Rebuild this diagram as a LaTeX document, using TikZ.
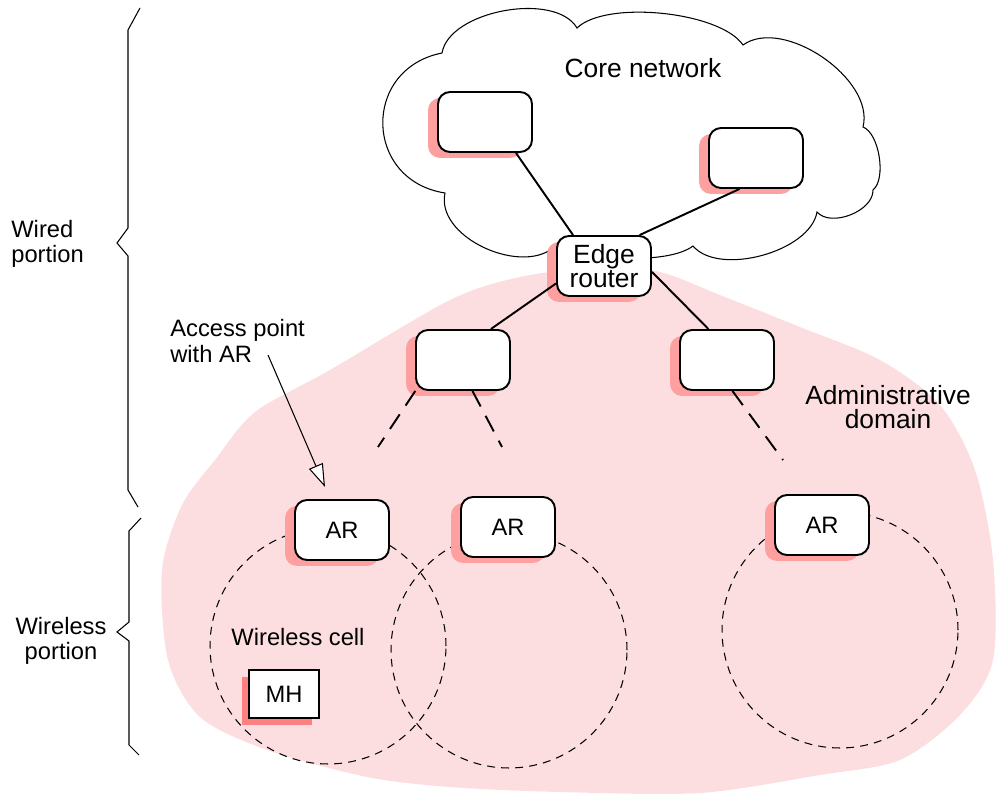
\documentclass[tikz,border=0pt]{standalone}
\usepackage{fontspec}
\setmainfont{Liberation Sans}
\usetikzlibrary{shadows,arrows.meta}

\definecolor{domainpink}{RGB}{253,222,224}
\definecolor{shadowpink}{RGB}{255,160,160}
\definecolor{mhpink}{RGB}{255,128,128}

\begin{document}
\begin{tikzpicture}[x=0.02cm,y=-0.02cm,
  router/.style={draw,line width=1.1pt,fill=white,rounded corners=0.24cm,minimum width=1.88cm,minimum height=1.2cm,inner sep=0pt,font=\fontsize{13.5}{14}\selectfont,drop shadow={shadow xshift=-0.2cm,shadow yshift=-0.12cm,fill=shadowpink,opacity=1}},
  host/.style={draw,line width=1.1pt,fill=white,minimum width=1.4cm,minimum height=0.96cm,inner sep=0pt,font=\fontsize{13.5}{14}\selectfont,drop shadow={shadow xshift=-0.14cm,shadow yshift=-0.14cm,fill=mhpink,opacity=1}},
  cell/.style={draw,circle,line width=0.6pt,dash pattern=on 4.5pt off 3.5pt,minimum size=4.72cm,inner sep=0pt},
  link/.style={line width=1.1pt},
  radio/.style={line width=1.1pt,dash pattern=on 10pt off 6pt},
  brace/.style={line width=0.6pt},
  big/.style={inner sep=0pt,font=\fontsize{15}{13.5}\selectfont},
  small/.style={inner sep=0pt,font=\fontsize{13.5}{14.5}\selectfont}]
  \useasboundingbox (0,0) rectangle (998,794);

  \fill[domainpink] plot[smooth cycle] coordinates {(162,570) (182,505) (215,460) (255,412) (330,370) (450,300) (520,277) (600,267) (660,272) (720,295) (800,327) (880,360) (940,405) (975,470) (993,560) (993,660) (960,715) (900,760) (820,775) (700,793) (560,792) (450,787) (367,777) (267,750) (200,717) (168,660)};

  \draw[fill=white,line width=0.6pt] (445,193) to[bend left=80,looseness=1.5] (442,53) to[bend left=70,looseness=0.8] (577,28) to[bend left=50,looseness=0.62] (743,45) to[bend left=70,looseness=0.87] (863,127) to[bend left=60,looseness=0.7] (873,190) to[bend left=70,looseness=0.9] (817,212) to[bend left=65,looseness=0.8] (693,246) to[bend left=40,looseness=0.6] (560,240) to[bend left=80] (445,193) -- cycle;

  \node[cell] (cell1) at (328,646) {};
  \node[cell] (cell2) at (509,650) {};
  \node[cell] (cell3) at (840,630) {};

  \node[router] (coreL) at (485,122) {};
  \node[router] (coreR) at (756,158) {};
  \node[router,big,align=center] (edge) at (604,266) {Edge\\router};
  \node[router] (midL) at (463,360) {};
  \node[router] (midR) at (727,360) {};
  \node[router] (ar1) at (342,530) {AR};
  \node[router] (ar2) at (508,527) {AR};
  \node[router] (ar3) at (822,525) {AR};
  \node[host] (mh) at (284,694) {MH};

  \draw[link] (coreL.-45) -- (edge.135);
  \draw[link] (coreR.-118) -- (edge.41);
  \draw[link] (edge.200) -- (midL.48);
  \draw[link] (edge.-7) -- (midR.121);

  \coordinate (d1) at (378,447);
  \coordinate (d2) at (502,447);
  \coordinate (d3) at (783,460);
  \draw[radio] (midL.213) -- (d1);
  \draw[radio] (midL.-73) -- (d2);
  \draw[radio] (midR.-80) -- (d3);

  \node[big] (coretext) at (643,68) {Core network};
  \node[big,align=center] (domaintext) at (888,407) {Administrative\\domain};
  \node[small] (celltext) at (298,637) {Wireless cell};
  \node[small,align=left,anchor=west] (aptext) at (170,341) {Access point\\with AR};
  \node[small,align=left,anchor=west] (wiredtext) at (11,244) {Wired\\portion};
  \node[small,align=center] (wirelesstext) at (61,641) {Wireless\\portion};

  \coordinate (apTail) at (268,355);
  \coordinate (apTip) at (325,487);
  \draw[line width=0.6pt,-{Triangle[length=0.46cm,width=0.3cm,fill=white]}] (apTail) -- (apTip);

  \draw[brace] (140,8) -- (128,30) -- (128,228) -- (117,243) -- (128,256) -- (128,490) -- (138,507);
  \draw[brace] (141,518) -- (129,531) -- (129,622) -- (117,632) -- (129,641) -- (129,745) -- (139,755);
\end{tikzpicture}
\end{document}
